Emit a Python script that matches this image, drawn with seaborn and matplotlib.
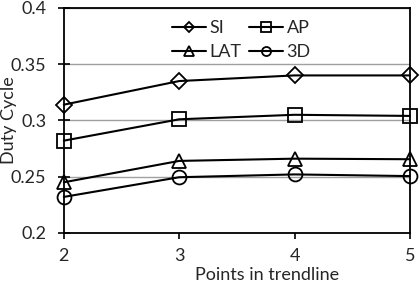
import matplotlib
matplotlib.use("Agg")
import matplotlib.pyplot as plt
import seaborn as sns
import pandas as pd

# data
points = [2, 3, 4, 5]
si = [0.314, 0.335, 0.340, 0.340]
ap = [0.282, 0.301, 0.305, 0.304]
lat = [0.245, 0.264, 0.266, 0.2655]
d3 = [0.232, 0.2495, 0.252, 0.2505]

series = ["SI", "AP", "LAT", "3D"]
values = [si, ap, lat, d3]
markers = ["D", "s", "^", "o"]
msizes = [8, 10, 10, 10]

sns.set_theme(style="white")
plt.rcParams["font.family"] = ["Lato", "DejaVu Sans"]
plt.rcParams["font.size"] = 13

fig, ax = plt.subplots(figsize=(4.2, 2.83), dpi=100)

lines = {}
for name, vals, m, ms in zip(series, values, markers, msizes):
    df = pd.DataFrame({"x": points, "y": vals})
    sns.lineplot(
        data=df, x="x", y="y", ax=ax,
        color="black", linewidth=1.5,
        marker=m, markersize=ms,
        markerfacecolor="none", markeredgecolor="black", markeredgewidth=1.3,
        clip_on=False, zorder=3
    )
    lines[name] = ax.lines[-1]

ax.set_xlim(2, 5)
ax.set_ylim(0.2, 0.4)
ax.set_xticks(points)
ax.set_xticklabels(["2", "3", "4", "5"])
ax.set_yticks([0.2, 0.25, 0.3, 0.35, 0.4])
ax.set_yticklabels(["0.2", "0.25", "0.3", "0.35", "0.4"])
ax.grid(axis="y", color="#a0a0a0", linewidth=1)
ax.set_axisbelow(True)

for s in ax.spines.values():
    s.set_color("black")
    s.set_linewidth(1.3)

ax.tick_params(axis="x", labelsize=13, color="black", length=4, width=1.2,
               direction="out", bottom=True, pad=7)
ax.tick_params(axis="y", labelsize=13, color="black", length=9, width=1.2,
               direction="inout", left=True, pad=8)

ax.set_xlabel("Points in trendline", fontsize=13)
ax.set_ylabel("Duty Cycle", fontsize=13)
ax.xaxis.set_label_coords(0.587, -0.152)
ax.yaxis.set_label_coords(-0.135, 0.5)

# column-wise fill order so rows read SI AP / LAT 3D
order = ["SI", "LAT", "AP", "3D"]
ax.legend([lines[n] for n in order], order, ncol=2, loc="upper left",
          bbox_to_anchor=(0.285, 0.985), frameon=False, borderpad=0,
          fontsize=13, handlelength=1.9, columnspacing=0.4, handletextpad=0.2,
          labelspacing=0.45, markerscale=0.65)

fig.subplots_adjust(left=0.152, right=0.976, top=0.972, bottom=0.177)
fig.savefig("out.png", dpi=100)
